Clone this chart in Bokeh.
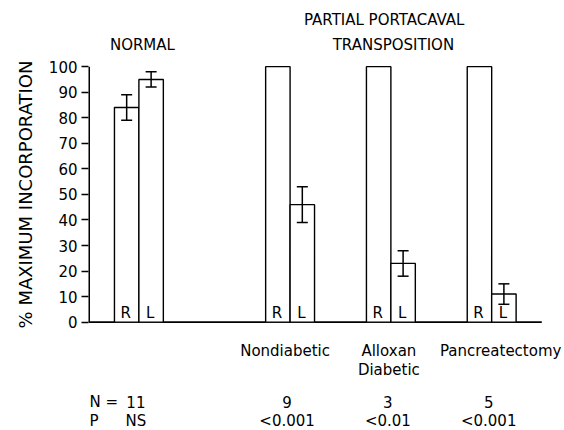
from bokeh.plotting import figure
from bokeh.models import (Range1d, FixedTicker, Whisker, TeeHead, ColumnDataSource, Title)
from bokeh.core.properties import value
from bokeh.embed import file_html
from bokeh.resources import INLINE

# ---- data ----
groups = ["Normal", "Nondiabetic", "Alloxan\nDiabetic", "Pancreatectomy"]
right_lobe = [84, 100, 100, 100]
right_err = [5, None, None, None]
left_lobe = [95, 46, 23, 11]
left_err = [3, 7, 5, 4]
n_values = ["11", "9", "3", "5"]
p_values = ["NS", "<0.001", "<0.01", "<0.001"]
y_ticks = [0, 10, 20, 30, 40, 50, 60, 70, 80, 90, 100]

# ---- layout ----
group_x = [2, 8, 12, 16]
label_shift_px = [-5, -2, 9]
bar_w = 0.97
FONT = value("DejaVu Sans")
FS = value("15px")

p = figure(width=564, height=430, output_backend="svg", toolbar_location=None,
           x_range=Range1d(0, 18.89), y_range=Range1d(-42.4, 125.9),
           x_axis_location=None, min_border_left=88, min_border_right=0,
           min_border_top=0, min_border_bottom=0)
p.outline_line_color = None
p.grid.visible = False
p.background_fill_color = "white"
p.border_fill_color = "white"

ax = p.yaxis[0]
ax.ticker = FixedTicker(ticks=y_ticks)
ax.axis_line_color = None
ax.major_tick_out = 7
ax.major_tick_in = 0
ax.minor_tick_line_color = None
ax.major_tick_line_width = 1.5
ax.major_tick_line_color = "black"
ax.major_label_standoff = 4
ax.major_label_text_font = "DejaVu Sans"
ax.major_label_text_font_size = "15px"
ax.major_label_text_color = "black"

p.add_layout(Title(text="% MAXIMUM INCORPORATION", align="right", offset=60,
                   standoff=19, text_font="DejaVu Sans", text_font_size="18px",
                   text_font_style="normal", text_color="black"), "left")

# axis lines
x_end = group_x[-1] + bar_w * 2.05
p.segment(x0=[0], y0=[y_ticks[0]], x1=[0], y1=[y_ticks[-1]], line_color="black", line_width=3)
p.segment(x0=[0], y0=[0], x1=[x_end], y1=[0], line_color="black", line_width=1.7)

rx = [g - bar_w / 2 for g in group_x]
lx = [g + bar_w / 2 for g in group_x]
p.vbar(x=rx, top=right_lobe, bottom=0, width=bar_w, fill_color="white",
       line_color="black", line_width=1.4)
p.vbar(x=lx, top=left_lobe, bottom=0, width=bar_w, fill_color="white",
       line_color="black", line_width=1.4)

# error bars
eb_x = [x for x, e in zip(rx, right_err) if e] + lx
eb_m = [v for v, e in zip(right_lobe, right_err) if e] + left_lobe
eb_e = [e for e in right_err if e] + left_err
src = ColumnDataSource(dict(base=eb_x, upper=[m + e for m, e in zip(eb_m, eb_e)],
                            lower=[m - e for m, e in zip(eb_m, eb_e)]))
p.add_layout(Whisker(source=src, base="base", upper="upper", lower="lower",
                     level="overlay", line_width=1.5, line_color="black",
                     upper_head=TeeHead(size=11, line_width=1.5, line_color="black"),
                     lower_head=TeeHead(size=11, line_width=1.5, line_color="black")))

# R / L letters
p.text(x=rx, y=[3.4] * len(rx), text=["R"] * len(rx), text_font=FONT,
       text_font_size=FS, text_align="center", text_baseline="alphabetic", x_offset=-1)
p.text(x=lx, y=[3.4] * len(lx), text=["L"] * len(lx), text_font=FONT,
       text_font_size=FS, text_align="center", text_baseline="alphabetic", x_offset=-1)

# group titles
treat_center = sum(group_x[1:]) / 3
p.text(x=[group_x[0] + 0.14, treat_center - 0.17, treat_center + 0.1],
       y=[108.3, 118.1, 108.3], text=["NORMAL", "PARTIAL  PORTACAVAL", "TRANSPOSITION"],
       text_font=FONT, text_font_size=FS, text_align="center",
       text_baseline="alphabetic")

# treatment labels
first = [g.split("\n")[0] for g in groups[1:]]
second = [g.split("\n")[1] if "\n" in g else "" for g in groups[1:]]
lab_src = ColumnDataSource(dict(x=group_x[1:], first=first, second=second,
                                xo=label_shift_px, y1=[-11.1] * 3, y2=[-18.9] * 3))
p.text(x="x", y="y1", text="first", x_offset="xo", source=lab_src, text_font=FONT,
       text_font_size=FS, text_align="center", text_baseline="alphabetic")
p.text(x="x", y="y2", text="second", x_offset="xo", source=lab_src, text_font=FONT,
       text_font_size=FS, text_align="center", text_baseline="alphabetic")

# N and P rows
p.text(x=group_x, y=[-31.4] * 4, text=n_values, text_font=FONT,
       text_font_size=FS, text_align="center", text_baseline="alphabetic", x_offset=-3)
p.text(x=group_x, y=[-38.5] * 4, text=p_values, text_font=FONT,
       text_font_size=FS, text_align="center", text_baseline="alphabetic", x_offset=-3)
p.text(x=[0.04, 0.04], y=[-31.4, -38.5], text=["N =", "P"], text_font=FONT,
       text_font_size=FS, text_align="left", text_baseline="alphabetic")

open("out.html", "w").write(file_html(p, INLINE))
